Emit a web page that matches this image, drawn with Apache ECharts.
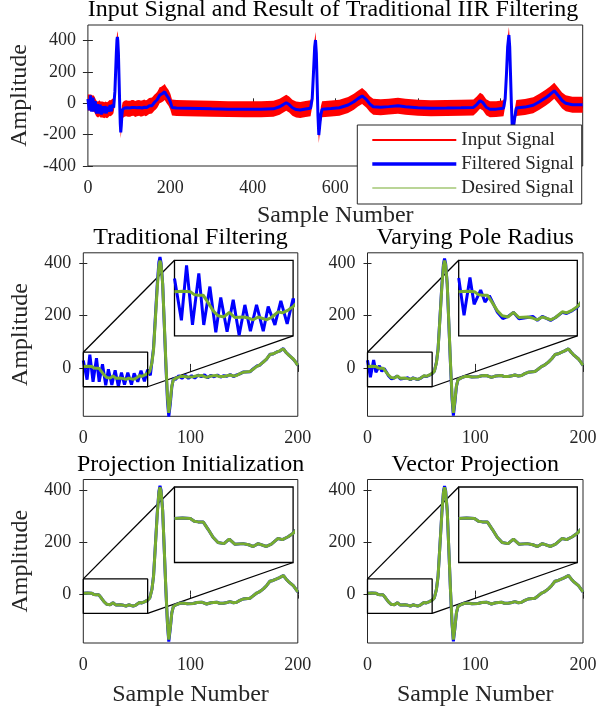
<!DOCTYPE html>
<html>
<head>
<meta charset="utf-8">
<script src="https://cdn.jsdelivr.net/npm/echarts@6/dist/echarts.min.js"></script>
<style>
  html, body { margin: 0; padding: 0; background: #fff; }
  #chart { width: 600px; height: 713px; }
</style>
</head>
<body>
<div id="chart"></div>
<script>
// ---- data ([sample, amplitude]) ----
// desired ECG beat, first 200 samples
const desired = [[0,5],[4,6],[8,5],[10,0],[12,-1],[14.5,-1],[17,-14],[19.5,-28],[22,-37],[25,-39],[27.7,-31],
  [30.5,-40],[34.7,-39],[37.5,-41],[39.8,-44],[42.3,-39],[46.5,-44],[49,-40],[52.4,-30],[54.6,-32],[57.5,-27],
  [60,-21],[62,-13],[64,20],[65.5,70],[67,172],[69,310],[70.5,390],[71.5,410],[72.5,395],[74,320],[75.5,172],
  [77,20],[78.5,-110],[79.7,-172],[81,-130],[82.5,-70],[84,-45],[87,-38],[90,-33],[93,-32],[97,-35],[102.6,-34],
  [106,-30],[110.4,-29],[115,-36],[119,-31],[124.4,-29],[127,-33],[130.6,-33],[134,-30],[136.8,-27],[140,-31],
  [143,-29],[146,-22],[149,-17],[155.4,-14],[158,-6],[161.7,6],[164,10],[167.9,22],[171,35],[174,51],[177,54],
  [180.3,60],[183,65],[186.5,73],[189,60],[191,51],[195.8,34],[198,22],[200,10]];

// desired signal beyond sample 200 (top panel only)
const desiredLong = [[204,-26],[215,-30],[240,-31],[270,-33],[300,-35],[340,-37],[380,-38],[420,-38],[450,-35],
  [465,-22],[474,-8],[481,4],[488,-8],[496,-28],[505,-40],[515,-43],[528,-36],[540,-32],[544,30],[547,190],
  [550,360],[552,404],[554,320],[556,120],[558,-80],[560,-202],[562,-150],[565,-70],[568,-38],[590,-33],
  [610,-28],[631,-11],[645,10],[655,30],[665,47],[675,25],[684,-5],[692,-22],[710,-25],[730,-21],[752,-15],
  [770,-22],[800,-28],[832,-32],[870,-30],[905,-28],[935,-26],[943,-8],[951,17],[958,5],[966,-25],[975,-38],
  [990,-37],[1008,-32],[1012,30],[1015,180],[1018,360],[1021,436],[1023,360],[1025,180],[1027,0],[1029,-140],
  [1031,-185],[1034,-110],[1039,-30],[1060,-24],[1080,-12],[1095,10],[1110,35],[1120,55],[1131,80],[1140,52],
  [1150,18],[1159,0],[1175,-9],[1200,-9]];

// half height of the hum riding on the input signal
const noiseAmp = 51;

// traditional IIR filter output
const tradFiltered = [[0,28],[3.5,-45],[6.1,51],[9.1,-53],[12.3,37],[14.8,-53],[17.9,14],[20.9,-66],[23.4,-5],
  [26.6,-65],[29.7,-9],[32.7,-71],[35.6,-18],[38.4,-64],[41.5,-18],[44.9,-64],[47.4,-21],[50.8,-53],[53.8,-11],
  [57,-51],[60,-7],[62.5,-28],[64,24],[65.5,76],[67,182],[69,322],[70.5,405],[71.5,424],[72.5,402],[74,322],
  [75.5,166],[77,10],[78.5,-128],[79.7,-186],[81,-142],[82.5,-74],[84,-40],[86,-44],[89,-30],[92,-40],[95,-28],
  [98,-40],[101,-30],[104,-39],[107,-27],[110,-34],[113,-26],[116,-38],[119,-28],[122,-34],[125,-27],[128,-35],
  [131,-30],[134,-32],[137,-25],[140,-33],[143,-27],[146,-23],[149,-16],[155.4,-15],[158,-5],[161.7,7],[164,9],
  [167.9,23],[171,34],[174,52],[177,53],[180.3,61],[183,64],[186.5,74],[189,59],[191,52],[195.8,33],[198,23],[200,9]];

// varying pole radius: start transient and QRS
const poleHead = [[0,29],[2.7,-36],[5.7,30],[7.8,-17],[11.1,8],[13.3,-13],[15.5,-2],[17.5,-16],[19.6,-31],
  [22.3,-42],[25,-38],[27.7,-31],[30.5,-42],[34.7,-40],[37.5,-38],[39.8,-45],[42.3,-38],[46.5,-45],[49,-40],
  [52.4,-31],[54.6,-33],[57.5,-28],[60,-22],[62,-13],[64,22],[65.5,73],[67,176],[69,316],[70.5,398],[71.5,418],
  [72.5,400],[74,320],[75.5,168],[77,14],[78.5,-120],[79.7,-182],[81,-136],[82.5,-72]];
// projection initialization: QRS
const projQRS = [[62,-13],[64,21],[65.5,72],[67,175],[69,314],[70.5,395],[71.5,416],[72.5,399],[74,322],
  [75.5,170],[77,16],[78.5,-116],[79.7,-180],[81,-134],[82.5,-71]];
// vector projection: QRS
const vecQRS = [[62,-13],[64,21],[65.5,71],[67,174],[69,313],[70.5,394],[71.5,415],[72.5,398],[74,321],
  [75.5,170],[77,17],[78.5,-115],[79.7,-179],[81,-133],[82.5,-71]];

const poleFiltered = poleHead.concat(desired.filter(p => p[0] >= 84));
const projFiltered = desired.filter(p => p[0] < 62).concat(projQRS, desired.filter(p => p[0] >= 84));
const vecFiltered = desired.filter(p => p[0] < 62).concat(vecQRS, desired.filter(p => p[0] >= 84));

const topDesired = desired.concat(desiredLong);
const topFiltered = tradFiltered.concat(desiredLong);

// zoomed region shown in the insets
const zoomX = [0, 60];
const zoomY = [-72, 60];

const topXTicks = [0, 200, 400, 600, 800, 1000, 1200];
const topXLabels = [0, 200, 400, 600, 800, 1000];
const topYTicks = [-400, -200, 0, 200, 400];
const subXTicks = [0, 100, 200];
const subYTicks = [0, 200, 400];

// ---- chart ----
const FONT = 'Liberation Serif';
const INK = '#262626';
const RED = '#ff0000', BLUE = '#0000ff', GREEN = '#77ac30';

const chart = echarts.init(document.getElementById('chart'));

const grid = [], xAxis = [], yAxis = [], series = [], title = [];

function boxAxes(g, xr, yr, xt, xl, yt, tickLen, xname, yname, xGap) {
  const xi = xAxis.length, yi = yAxis.length;
  const lab = { fontFamily: FONT, fontSize: 18, color: INK };
  const nameStyle = { fontFamily: FONT, fontSize: 24, color: INK };
  ['bottom', 'top'].forEach((pos, k) => xAxis.push({
    type: 'value', gridIndex: g, position: pos, min: xr[0], max: xr[1],
    axisLine: { show: false }, splitLine: { show: false },
    axisTick: { inside: true, length: tickLen, customValues: xt, lineStyle: { color: INK } },
    axisLabel: Object.assign({ show: k === 0, customValues: xl, margin: 13 }, lab),
    name: k === 0 ? xname : '', nameLocation: 'middle', nameGap: xGap, nameTextStyle: nameStyle
  }));
  ['left', 'right'].forEach((pos, k) => yAxis.push({
    type: 'value', gridIndex: g, position: pos, min: yr[0], max: yr[1],
    axisLine: { show: false }, splitLine: { show: false },
    axisTick: { inside: true, length: tickLen, customValues: yt, lineStyle: { color: INK } },
    axisLabel: Object.assign({ show: k === 0, customValues: yt, margin: 12 }, lab),
    name: k === 0 ? yname : '', nameLocation: 'middle', nameGap: 51, nameTextStyle: nameStyle
  }));
  return [xi, yi];
}

// top panel
grid.push({ left: 83.3, top: 25, width: 499.4, height: 141, show: true, borderColor: INK, borderWidth: 1 });
const [tx, ty] = boxAxes(0, [0, 1200], [-400, 500], topXTicks, topXLabels, topYTicks, 5, 'Sample Number', 'Amplitude', 38);
title.push({ text: 'Input Signal and Result of Traditional IIR Filtering', left: 333, top: -2 });

series.push({
  type: 'custom', name: 'Input Signal', xAxisIndex: tx, yAxisIndex: ty, data: topDesired, clip: true,
  itemStyle: { color: RED }, silent: true,
  renderItem(params, api) {
    if (params.dataIndex !== 0) return null;
    const pts = topDesired.map(p => api.coord([p[0], p[1] + noiseAmp]));
    for (let i = topDesired.length - 1; i >= 0; i--) pts.push(api.coord([topDesired[i][0], topDesired[i][1] - noiseAmp]));
    return { type: 'polygon', shape: { points: pts }, style: { fill: RED } };
  }
});
// desired drawn under the filtered trace, as in the reference
series.push({ type: 'line', name: 'Desired Signal', xAxisIndex: tx, yAxisIndex: ty, data: topDesired,
  symbol: 'none', lineStyle: { color: GREEN, width: 1.2 }, itemStyle: { color: GREEN } });
series.push({ type: 'line', name: 'Filtered Signal', xAxisIndex: tx, yAxisIndex: ty, data: topFiltered,
  symbol: 'none', lineStyle: { color: BLUE, width: 3 }, itemStyle: { color: BLUE } });

// four comparison panels
const panels = [
  { name: 'Traditional Filtering', left: 83.3, top: 252.8, width: 214.5, filtered: tradFiltered, yname: 'Amplitude', xname: '' },
  { name: 'Varying Pole Radius', left: 367.5, top: 252.8, width: 215.5, filtered: poleFiltered, yname: '', xname: '' },
  { name: 'Projection Initialization', left: 83.3, top: 479.5, width: 214.5, filtered: projFiltered, yname: 'Amplitude', xname: 'Sample Number' },
  { name: 'Vector Projection', left: 367.5, top: 479.5, width: 215.5, filtered: vecFiltered, yname: '', xname: 'Sample Number' }
];
const PH = 163.5;
const links = [];

panels.forEach((p, i) => {
  const g = grid.length;
  grid.push({ left: p.left, top: p.top, width: p.width, height: PH, show: true, borderColor: INK, borderWidth: 1 });
  const [xi, yi] = boxAxes(g, [0, 200], [-185, 440], subXTicks, subXTicks, subYTicks, 4, p.xname, p.yname, 40);
  title.push({ text: p.name, left: p.left + p.width / 2, top: p.top - 27 });

  series.push({ type: 'line', name: 'filtered ' + i, xAxisIndex: xi, yAxisIndex: yi, data: p.filtered,
    symbol: 'none', lineStyle: { color: BLUE, width: 3 } });
  series.push({ type: 'line', name: 'desired ' + i, xAxisIndex: xi, yAxisIndex: yi, data: desired,
    symbol: 'none', lineStyle: { color: GREEN, width: 3 } });
  // rectangle marking the zoomed region
  series.push({ type: 'line', name: 'zoombox ' + i, xAxisIndex: xi, yAxisIndex: yi, symbol: 'none', z: 4,
    data: [[zoomX[0], zoomY[1]], [zoomX[1], zoomY[1]], [zoomX[1], zoomY[0]], [zoomX[0], zoomY[0]], [zoomX[0], zoomY[1]]],
    lineStyle: { color: '#000', width: 1.3 } });

  // inset
  const gi = grid.length;
  grid.push({ left: p.left + 91.2, top: p.top + 7.5, width: 118.6, height: 75.5, show: true,
    backgroundColor: '#fff', borderColor: '#000', borderWidth: 1.3 });
  const ixi = xAxis.length, iyi = yAxis.length;
  xAxis.push({ type: 'value', gridIndex: gi, min: zoomX[0], max: zoomX[1], show: false });
  yAxis.push({ type: 'value', gridIndex: gi, min: zoomY[0], max: zoomY[1], show: false });
  series.push({ type: 'line', name: 'filtered inset ' + i, xAxisIndex: ixi, yAxisIndex: iyi, data: p.filtered,
    symbol: 'none', lineStyle: { color: BLUE, width: 3 } });
  series.push({ type: 'line', name: 'desired inset ' + i, xAxisIndex: ixi, yAxisIndex: iyi, data: desired,
    symbol: 'none', lineStyle: { color: GREEN, width: 3 } });
  links.push({ main: [xi, yi], inset: [ixi, iyi] });
});

title.forEach(t => Object.assign(t, { textAlign: 'center', padding: 0,
  textStyle: { fontFamily: FONT, fontSize: 24, fontWeight: 'normal', color: '#000' } }));

chart.setOption({
  animation: false,
  backgroundColor: '#fff',
  title, grid, xAxis, yAxis, series,
  legend: {
    data: [
      { name: 'Input Signal', icon: 'path://M0 0H84V2H0Z' },
      { name: 'Filtered Signal', icon: 'path://M0 0H84V3.5H0Z' },
      { name: 'Desired Signal', icon: 'path://M0 0H84V1.2H0Z' }
    ],
    orient: 'vertical', left: 357.3, top: 125, itemWidth: 84, itemHeight: 14, itemGap: 4,
    padding: [5, 8, 6, 15], backgroundColor: '#fff', borderColor: INK, borderWidth: 1,
    selectedMode: false, z: 10,
    textStyle: { fontFamily: FONT, fontSize: 19, color: INK, lineHeight: 20 }
  }
});

// connector lines from the zoom box to its inset
const graphic = [];
links.forEach(l => {
  const m = { xAxisIndex: l.main[0], yAxisIndex: l.main[1] };
  const s = { xAxisIndex: l.inset[0], yAxisIndex: l.inset[1] };
  [[zoomX[0], zoomY[1]], [zoomX[1], zoomY[0]]].forEach(c => {
    const a = chart.convertToPixel(m, c), b = chart.convertToPixel(s, c);
    graphic.push({ type: 'line', z: 3, shape: { x1: a[0], y1: a[1], x2: b[0], y2: b[1] },
      style: { stroke: '#000', lineWidth: 1.3 } });
  });
});
chart.setOption({ graphic });
</script>
</body>
</html>
